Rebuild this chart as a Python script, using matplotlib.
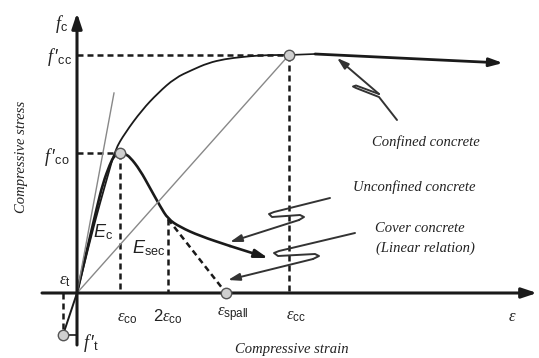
import matplotlib
matplotlib.use("Agg")
import matplotlib.pyplot as plt
from matplotlib.path import Path
from matplotlib.patches import PathPatch

plt.rcParams['mathtext.fontset'] = 'custom'
plt.rcParams['mathtext.rm'] = 'Liberation Sans'
plt.rcParams['mathtext.it'] = 'Liberation Serif:italic'
plt.rcParams['mathtext.sf'] = 'Liberation Sans:italic'

# ---- characteristic points (normalized strain / stress units) ----
eps_co = 0.43
eps_2co = 0.91
eps_spall = 1.49
eps_cc = 2.12
eps_t = -0.14
f_co = 1.40
f_cc = 2.38
f_t = -0.42
f_2co = 0.74

# confined concrete curve
conf_x = [0.0, 0.07, 0.15, 0.23, 0.31, 0.38, 0.48, 0.65, 0.81, 0.98, 1.15, 1.31, 1.48, 1.65, 1.81, 1.98, 2.12]
conf_y = [0.0, 0.28, 0.60, 0.90, 1.18, 1.43, 1.60, 1.83, 2.00, 2.15, 2.23, 2.30, 2.34, 2.36, 2.375, 2.38, 2.38]
# confined continuation (arrow)
conf_ext_x = [2.12, 2.38, 4.26]
conf_ext_y = [2.38, 2.39, 2.30]

# unconfined concrete curve
unc_x = [0.0, 0.06, 0.13, 0.20, 0.26, 0.33, 0.37, 0.43, 0.48, 0.53, 0.63, 0.73, 0.83, 0.91, 1.03, 1.23, 1.53, 1.91]
unc_y = [0.0, 0.26, 0.56, 0.86, 1.10, 1.29, 1.37, 1.41, 1.39, 1.36, 1.23, 1.05, 0.87, 0.74, 0.66, 0.57, 0.47, 0.35]

# tangent (Ec) and secant (Esec) lines
ec_x = [0.0, 0.37]
ec_y = [0.0, 2.00]
esec_x = [0.0, eps_cc]
esec_y = [0.0, f_cc]

# leader lines
lead_conf_x = [3.20, 3.02, 2.79, 2.76, 2.79, 3.02, 2.60]
lead_conf_y = [1.73, 1.96, 2.05, 2.065, 2.075, 1.99, 2.35]
lead_unc_x = [2.53, 1.97, 1.92, 1.95, 2.23, 2.27, 2.22, 1.53]
lead_unc_y = [0.95, 0.81, 0.79, 0.76, 0.78, 0.76, 0.73, 0.51]
lead_cov_x = [2.78, 2.02, 1.97, 2.01, 2.38, 2.42, 2.36, 1.51]
lead_cov_y = [0.60, 0.42, 0.40, 0.37, 0.39, 0.37, 0.34, 0.13]

fig = plt.figure(figsize=(5.39, 3.58), dpi=100)
ax = fig.add_axes([0, 0, 1, 1])
ax.set_xlim(-0.77, 4.62)
ax.set_ylim(-0.65, 2.93)
ax.axis('off')

k = '#1a1a1a'
dash = dict(color=k, lw=1.8, ls=(0, (2.4, 1.6)))


def smooth(xs, ys, **kw):
    """Quadratic Bezier path through the read points (drawn by matplotlib)."""
    pts = list(zip(xs, ys))
    verts = [pts[0]]
    codes = [Path.MOVETO]
    for i in range(1, len(pts) - 1):
        mid = ((pts[i][0] + pts[i + 1][0]) / 2, (pts[i][1] + pts[i + 1][1]) / 2)
        verts += [pts[i], mid]
        codes += [Path.CURVE3, Path.CURVE3]
    verts.append(pts[-1])
    codes.append(Path.LINETO)
    ax.add_patch(PathPatch(Path(verts, codes), fill=False, capstyle='round', joinstyle='round', **kw))


# axes arrows
ax.annotate('', xy=(0, 2.80), xytext=(0, -0.52),
            arrowprops=dict(arrowstyle='-|>,head_length=0.9,head_width=0.3', color=k, lw=2.2, shrinkA=0, shrinkB=0))
ax.annotate('', xy=(4.60, 0), xytext=(-0.35, 0),
            arrowprops=dict(arrowstyle='-|>,head_length=0.9,head_width=0.3', color=k, lw=2.2, shrinkA=0, shrinkB=0))

# dashed guide lines
ax.plot([0, eps_cc], [f_cc, f_cc], **dash)
ax.plot([0, eps_co], [f_co, f_co], **dash)
ax.plot([eps_co, eps_co], [f_co, 0], **dash)
ax.plot([eps_2co, eps_2co], [f_2co, 0], **dash)
ax.plot([eps_cc, eps_cc], [f_cc, 0], **dash)
ax.plot([eps_t, eps_t], [0, f_t], **dash)
ax.plot([eps_t, 0], [f_t, f_t], color=k, lw=1.2)
ax.plot([eps_2co, eps_spall], [f_2co, 0], **dash)

# thin gray lines
ax.plot(ec_x, ec_y, color='#888888', lw=1.0)
ax.plot(esec_x, esec_y, color='#888888', lw=1.0)

# tension branch
ax.plot([eps_t, 0], [f_t, 0], color=k, lw=1.4)

# curves
smooth(conf_x, conf_y, edgecolor=k, lw=1.3)
ax.plot(conf_ext_x[:2], conf_ext_y[:2], color=k, lw=1.2)
ax.annotate('', xy=(conf_ext_x[2], conf_ext_y[2]), xytext=(conf_ext_x[1], conf_ext_y[1]),
            arrowprops=dict(arrowstyle='-|>,head_length=0.8,head_width=0.25', color=k, lw=2.0, shrinkA=0, shrinkB=0))
smooth(unc_x[:-1], unc_y[:-1], edgecolor=k, lw=1.9)
ax.annotate('', xy=(unc_x[-1], unc_y[-1]), xytext=(unc_x[-2], unc_y[-2]),
            arrowprops=dict(arrowstyle='-|>,head_length=0.8,head_width=0.25', color=k, lw=1.9, shrinkA=0, shrinkB=0))

# leaders
for lx, ly in [(lead_conf_x, lead_conf_y), (lead_unc_x, lead_unc_y), (lead_cov_x, lead_cov_y)]:
    ax.plot(lx[:-1], ly[:-1], color='#333333', lw=1.4, solid_joinstyle='round', solid_capstyle='round')
    ax.annotate('', xy=(lx[-1], ly[-1]), xytext=(lx[-2], ly[-2]),
                arrowprops=dict(arrowstyle='-|>,head_length=0.7,head_width=0.22', color='#333333', lw=1.4,
                                shrinkA=0, shrinkB=0))

# circle markers
pts_x = [eps_co, eps_cc, eps_spall, eps_t]
pts_y = [f_co, f_cc, 0, f_t]
ax.plot(pts_x, pts_y, 'o', ms=7.5, mfc='#cfcfcf', mec='#555555', mew=1.0, zorder=5)

# labels
lab = dict(ha='center', va='center', color='#222222')
ax.text(-0.16, 2.69, r'$f_{\mathrm{c}}$', fontsize=13, **lab)
ax.text(-0.18, 2.36, '$f\\,\u2032_{\\mathrm{cc}}$', fontsize=13, **lab)
ax.text(-0.20, 1.36, '$f\\,\u2032_{\\mathrm{co}}$', fontsize=13, **lab)
ax.text(-0.12, 0.13, r'$\varepsilon_{\mathrm{t}}$', fontsize=12, **lab)
ax.text(0.14, -0.50, '$f\\,\u2032_{\\mathrm{t}}$', fontsize=13, **lab)
ax.text(0.50, -0.24, r'$\varepsilon_{\mathrm{co}}$', fontsize=12, **lab)
ax.text(0.91, -0.24, r'$\mathrm{2}\varepsilon_{\mathrm{co}}$', fontsize=12, **lab)
ax.text(1.56, -0.22, r'$\varepsilon_{\mathrm{spall}}$', fontsize=12, **lab)
ax.text(2.19, -0.22, r'$\varepsilon_{\mathrm{cc}}$', fontsize=12, **lab)
ax.text(4.35, -0.23, r'$\varepsilon$', fontsize=12, **lab)
ax.text(0.26, 0.61, r'$\mathsf{E}_{\mathrm{c}}$', fontsize=13, **lab)
ax.text(0.72, 0.45, r'$\mathsf{E}_{\mathrm{sec}}$', fontsize=13, **lab)

ser = dict(family='Liberation Serif', style='italic', fontsize=10.5, color='#222222', ha='center', va='center')
ax.text(3.49, 1.51, 'Confined concrete', **ser)
ax.text(3.37, 1.06, 'Unconfined concrete', **ser)
ax.text(3.43, 0.65, 'Cover concrete', **ser)
ax.text(3.48, 0.45, '(Linear relation)', **ser)
ax.text(2.15, -0.57, 'Compressive strain', **ser)
ax.text(-0.55, 1.36, 'Compressive stress', rotation=90, **ser)

fig.savefig('out.png', dpi=100)
